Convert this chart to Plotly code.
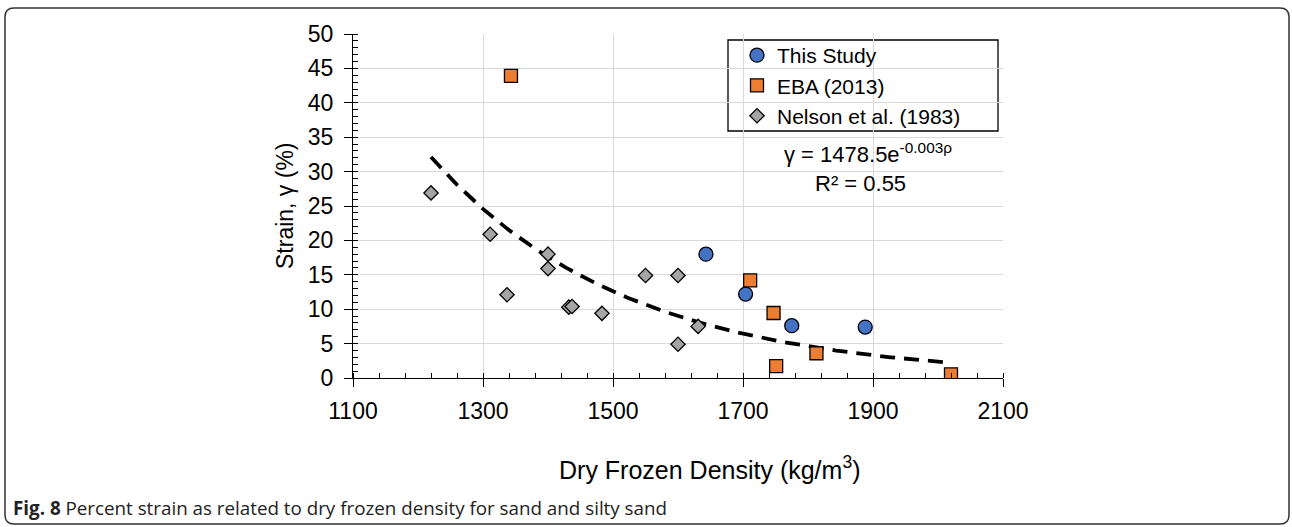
import numpy as np
import plotly.graph_objects as go

# ---------------- data ----------------
this_x = [1643, 1704, 1775, 1888]
this_y = [18.0, 12.2, 7.6, 7.4]

eba_x = [1343, 1711, 1747, 1813, 1751, 2020]
eba_y = [43.9, 14.2, 9.45, 3.6, 1.74, 0.53]

nel_x = [1220, 1311, 1337, 1400, 1400, 1432, 1437, 1483, 1550, 1600, 1600, 1631]
nel_y = [26.9, 20.9, 12.1, 18.0, 15.9, 10.3, 10.4, 9.4, 14.9, 14.9, 4.9, 7.5]

x_ticks = [1100, 1300, 1500, 1700, 1900, 2100]
y_ticks = [0, 5, 10, 15, 20, 25, 30, 35, 40, 45, 50]

# exponential trendline (least squares on ln y, as a spreadsheet does)
all_x = np.array(this_x + eba_x + nel_x, dtype=float)
all_y = np.array(this_y + eba_y + nel_y, dtype=float)
k, lna = np.polyfit(all_x, np.log(all_y), 1)
tx = np.linspace(all_x.min(), all_x.max(), 200)
ty = np.exp(lna) * np.exp(k * tx)

# ---------------- layout geometry ----------------
W, H = 1292, 527
L, R, T, B = 353, 1003, 34, 378  # plot area in pixels


def px(xp):
    return (xp - L) / (R - L)


def py(yp):
    return (B - yp) / (B - T)


FONT = "Liberation Sans, Arial, sans-serif"

fig = go.Figure()

fig.add_trace(go.Scatter(
    x=tx, y=ty, mode="lines", showlegend=False, hoverinfo="skip",
    line=dict(color="black", width=3.8, dash="15px,9px")))

fig.add_trace(go.Scatter(
    x=this_x, y=this_y, mode="markers", name="This Study",
    marker=dict(symbol="circle", size=14, color="#4472C4",
                line=dict(color="black", width=1.3))))
fig.add_trace(go.Scatter(
    x=eba_x, y=eba_y, mode="markers", name="EBA (2013)",
    marker=dict(symbol="square", size=13, color="#ED7D31",
                line=dict(color="black", width=1.3))))
fig.add_trace(go.Scatter(
    x=nel_x, y=nel_y, mode="markers", name="Nelson et al. (1983)",
    marker=dict(symbol="diamond", size=11, color="#A5A5A5",
                line=dict(color="black", width=1.3))))

axis_common = dict(
    showline=True, linecolor="black", linewidth=1.3,
    showgrid=True, gridcolor="#d9d9d9", gridwidth=1.3,
    zeroline=False, ticks="outside", ticklen=8, tickwidth=1.3, tickcolor="black",
    tickfont=dict(family=FONT, size=23, color="black"),
)

fig.update_xaxes(
    range=[1100, 2100], tickvals=x_ticks, ticktext=[str(v) for v in x_ticks],
    minor=dict(dtick=40, tick0=1100, ticks="inside", ticklen=5, tickwidth=1.3,
               tickcolor="black", showgrid=False),
    ticklabelstandoff=4,
    **axis_common)
fig.update_yaxes(
    range=[0, 50], tickvals=y_ticks, ticktext=[str(v) for v in y_ticks],
    minor=dict(dtick=1, tick0=0, ticks="inside", ticklen=5, tickwidth=1.3,
               tickcolor="black", showgrid=False),
    ticklabelstandoff=6,
    **axis_common)

# legend box
fig.add_shape(type="rect", xref="paper", yref="paper",
              x0=px(728), x1=px(998), y0=py(131), y1=py(40),
              line=dict(color="black", width=1.3), fillcolor="white", layer="between")

# outer rounded frame
x0, x1, y0, y1, r = 5, 1289, 8, 524, 9
path = (f"M {px(x0 + r)},{py(y0)} L {px(x1 - r)},{py(y0)} "
        f"Q {px(x1)},{py(y0)} {px(x1)},{py(y0 + r)} "
        f"L {px(x1)},{py(y1 - r)} Q {px(x1)},{py(y1)} {px(x1 - r)},{py(y1)} "
        f"L {px(x0 + r)},{py(y1)} Q {px(x0)},{py(y1)} {px(x0)},{py(y1 - r)} "
        f"L {px(x0)},{py(y0 + r)} Q {px(x0)},{py(y0)} {px(x0 + r)},{py(y0)} Z")
fig.add_shape(type="path", path=path, xref="paper", yref="paper",
              line=dict(color="#333333", width=1.5), layer="above")

ann = []
ann.append(dict(text="Strain, γ (%)", xref="paper", yref="paper",
                x=px(285), y=py(206), textangle=-90, showarrow=False,
                font=dict(family=FONT, size=23, color="black"),
                xanchor="center", yanchor="middle"))
ann.append(dict(text="Dry Frozen Density (kg/m<sup>3</sup>)", xref="paper", yref="paper",
                x=px(709), y=py(468), showarrow=False,
                font=dict(family=FONT, size=25, color="black"),
                xanchor="center", yanchor="middle"))
ann.append(dict(text="γ = 1478.5e<sup>-0.003ρ</sup>", xref="paper", yref="paper",
                x=px(868), y=py(153), showarrow=False,
                font=dict(family=FONT, size=22, color="black"),
                xanchor="center", yanchor="middle"))
ann.append(dict(text="R² = 0.55", xref="paper", yref="paper",
                x=px(860), y=py(183), showarrow=False,
                font=dict(family=FONT, size=22, color="black"),
                xanchor="center", yanchor="middle"))
ann.append(dict(text="<b>Fig. 8</b> Percent strain as related to dry frozen density for sand and silty sand",
                xref="paper", yref="paper", x=px(11), y=py(508), showarrow=False,
                font=dict(family="Open Sans, Noto Sans, sans-serif", size=18.8, color="#222222"),
                xanchor="left", yanchor="middle"))

fig.update_layout(
    width=W, height=H,
    margin=dict(l=L, r=W - R, t=T, b=H - B, pad=0),
    paper_bgcolor="white", plot_bgcolor="white",
    annotations=ann,
    legend=dict(x=px(737), y=py(35), xanchor="left", yanchor="top",
                bgcolor="rgba(0,0,0,0)", borderwidth=0,
                font=dict(family=FONT, size=21, color="black"),
                itemwidth=30, tracegroupgap=0),
    showlegend=True,
)

fig.write_html("out.html")
